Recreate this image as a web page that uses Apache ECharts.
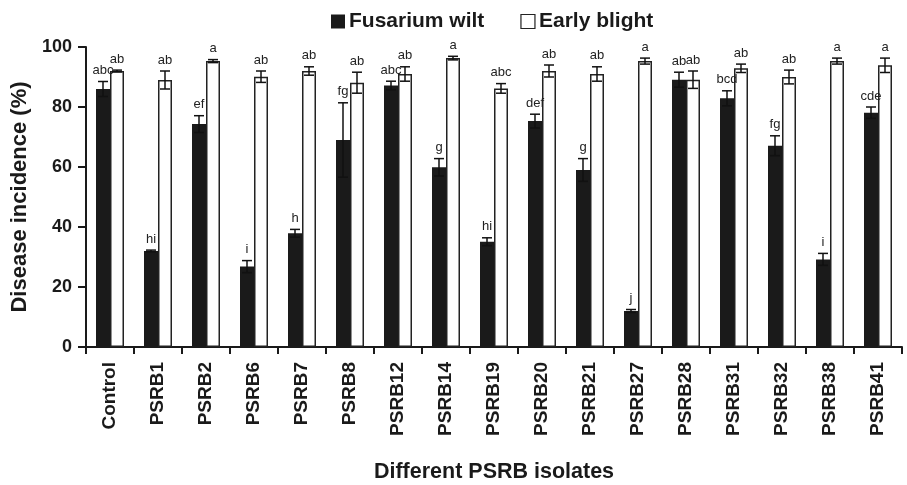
<!DOCTYPE html>
<html>
<head>
<meta charset="utf-8">
<script src="https://cdn.jsdelivr.net/npm/echarts@6/dist/echarts.min.js"></script>
<style>html,body{margin:0;padding:0;background:#fff}#c{width:907px;height:485px}</style>
</head>
<body>
<div id="c"></div>
<script>
const categories = ['Control','PSRB1','PSRB2','PSRB6','PSRB7','PSRB8','PSRB12','PSRB14','PSRB19','PSRB20','PSRB21','PSRB27','PSRB28','PSRB31','PSRB32','PSRB38','PSRB41'];
const fusarium    = [86, 32, 74.3, 26.8, 37.9, 69, 87.2, 59.9, 35.1, 75.3, 59, 12, 89.1, 82.9, 67.1, 29.2, 78.1];
const fusariumErr = [2.5, 0.3, 2.8, 2, 1.3, 12.4, 1.4, 2.9, 1.3, 2.3, 3.8, 0.5, 2.5, 2.5, 3.3, 2, 1.9];
const fusariumLetters = ['abc','hi','ef','i','h','fg','abc','g','hi','def','g','j','ab','bcd','fg','i','cde'];
const blight    = [92, 89, 95.3, 90.1, 92, 88.1, 91, 96.3, 86.2, 92, 91, 95.3, 89.1, 92.9, 90, 95.3, 93.9];
const blightErr = [0.3, 3, 0.5, 1.9, 1.4, 3.5, 2.4, 0.6, 1.6, 2, 2.4, 1, 2.9, 1.4, 2.3, 1, 2.4];
const blightLetters = ['ab','ab','a','ab','ab','ab','ab','a','abc','ab','ab','a','ab','ab','ab','a','a'];
const yTicks = [0, 20, 40, 60, 80, 100];

const FONT = "'Liberation Sans', Arial, Helvetica, sans-serif";
const BAR_W = 14;

function errData(vals, errs) {
  return vals.map((v, i) => [i, v - errs[i], v + errs[i]]);
}
function errSeries(name, vals, errs, letters, dx) {
  return {
    name: name, type: 'custom', silent: true, z: 5,
    data: errData(vals, errs),
    encode: { x: 0, y: [1, 2] },
    renderItem: function (params, api) {
      const i = api.value(0);
      const lo = api.coord([i, api.value(1)]);
      const hi = api.coord([i, api.value(2)]);
      const x = lo[0] + dx;
      const cap = 5;
      const st = { stroke: '#111', lineWidth: 1.5 };
      return {
        type: 'group',
        children: [
          { type: 'line', shape: { x1: x, y1: lo[1], x2: x, y2: hi[1] }, style: st },
          { type: 'line', shape: { x1: x - cap, y1: hi[1], x2: x + cap, y2: hi[1] }, style: st },
          { type: 'line', shape: { x1: x - cap, y1: lo[1], x2: x + cap, y2: lo[1] }, style: st },
          { type: 'text', style: { text: letters[params.dataIndex], x: x, y: hi[1] - 11,
              textAlign: 'center', textVerticalAlign: 'middle', fill: '#222',
              font: '13px ' + FONT } }
        ]
      };
    }
  };
}

const chart = echarts.init(document.getElementById('c'), null, { renderer: 'canvas' });
chart.setOption({
  animation: false,
  backgroundColor: '#fff',
  textStyle: { fontFamily: FONT },
  legend: {
    data: [
      { name: 'Fusarium wilt', itemStyle: { color: '#1a1a1a' } },
      { name: 'Early blight', itemStyle: { color: '#fff', borderColor: '#222', borderWidth: 1.2 } }
    ],
    left: 326, top: 6,
    icon: 'rect', itemWidth: 14, itemHeight: 14, itemGap: 36,
    textStyle: { fontFamily: FONT, fontWeight: 'bold', fontSize: 21, color: '#1a1a1a', padding: [0, 0, 0, -1] }
  },
  grid: { left: 86, right: 5, top: 47, bottom: 138, containLabel: false, outerBoundsMode: 'none' },
  xAxis: {
    type: 'category', data: categories,
    name: 'Different PSRB isolates', nameLocation: 'middle', nameGap: 114,
    nameTextStyle: { fontFamily: FONT, fontWeight: 'bold', fontSize: 21.5, color: '#1a1a1a' },
    axisLine: { lineStyle: { color: '#1a1a1a', width: 2 } },
    axisTick: { show: true, length: 7, lineStyle: { color: '#1a1a1a', width: 2 } },
    axisLabel: { rotate: 90, margin: 15, interval: 0, fontFamily: FONT, fontWeight: 'bold', fontSize: 19, color: '#1a1a1a' }
  },
  yAxis: {
    type: 'value', min: 0, max: 100, interval: 20,
    name: 'Disease incidence (%)', nameLocation: 'middle', nameGap: 52, nameRotate: 90,
    nameTextStyle: { fontFamily: FONT, fontWeight: 'bold', fontSize: 22, color: '#1a1a1a' },
    axisLine: { show: true, lineStyle: { color: '#1a1a1a', width: 2 } },
    axisTick: { show: true, length: 8, lineStyle: { color: '#1a1a1a', width: 2 } },
    splitLine: { show: false },
    axisLabel: { margin: 14, fontFamily: FONT, fontWeight: 'bold', fontSize: 18, color: '#1a1a1a',
      formatter: v => yTicks.includes(v) ? String(v) : '' }
  },
  series: [
    { name: 'Fusarium wilt', type: 'bar', data: fusarium, barWidth: BAR_W, barGap: '0%',
      itemStyle: { color: '#1a1a1a' } },
    { name: 'Early blight', type: 'bar', data: blight, barWidth: BAR_W, barGap: '0%',
      itemStyle: { color: '#fff', borderColor: '#222', borderWidth: 1.5 } },
    errSeries('fusErr', fusarium, fusariumErr, fusariumLetters, -BAR_W / 2),
    errSeries('ebErr', blight, blightErr, blightLetters, BAR_W / 2)
  ]
});
</script>
</body>
</html>
